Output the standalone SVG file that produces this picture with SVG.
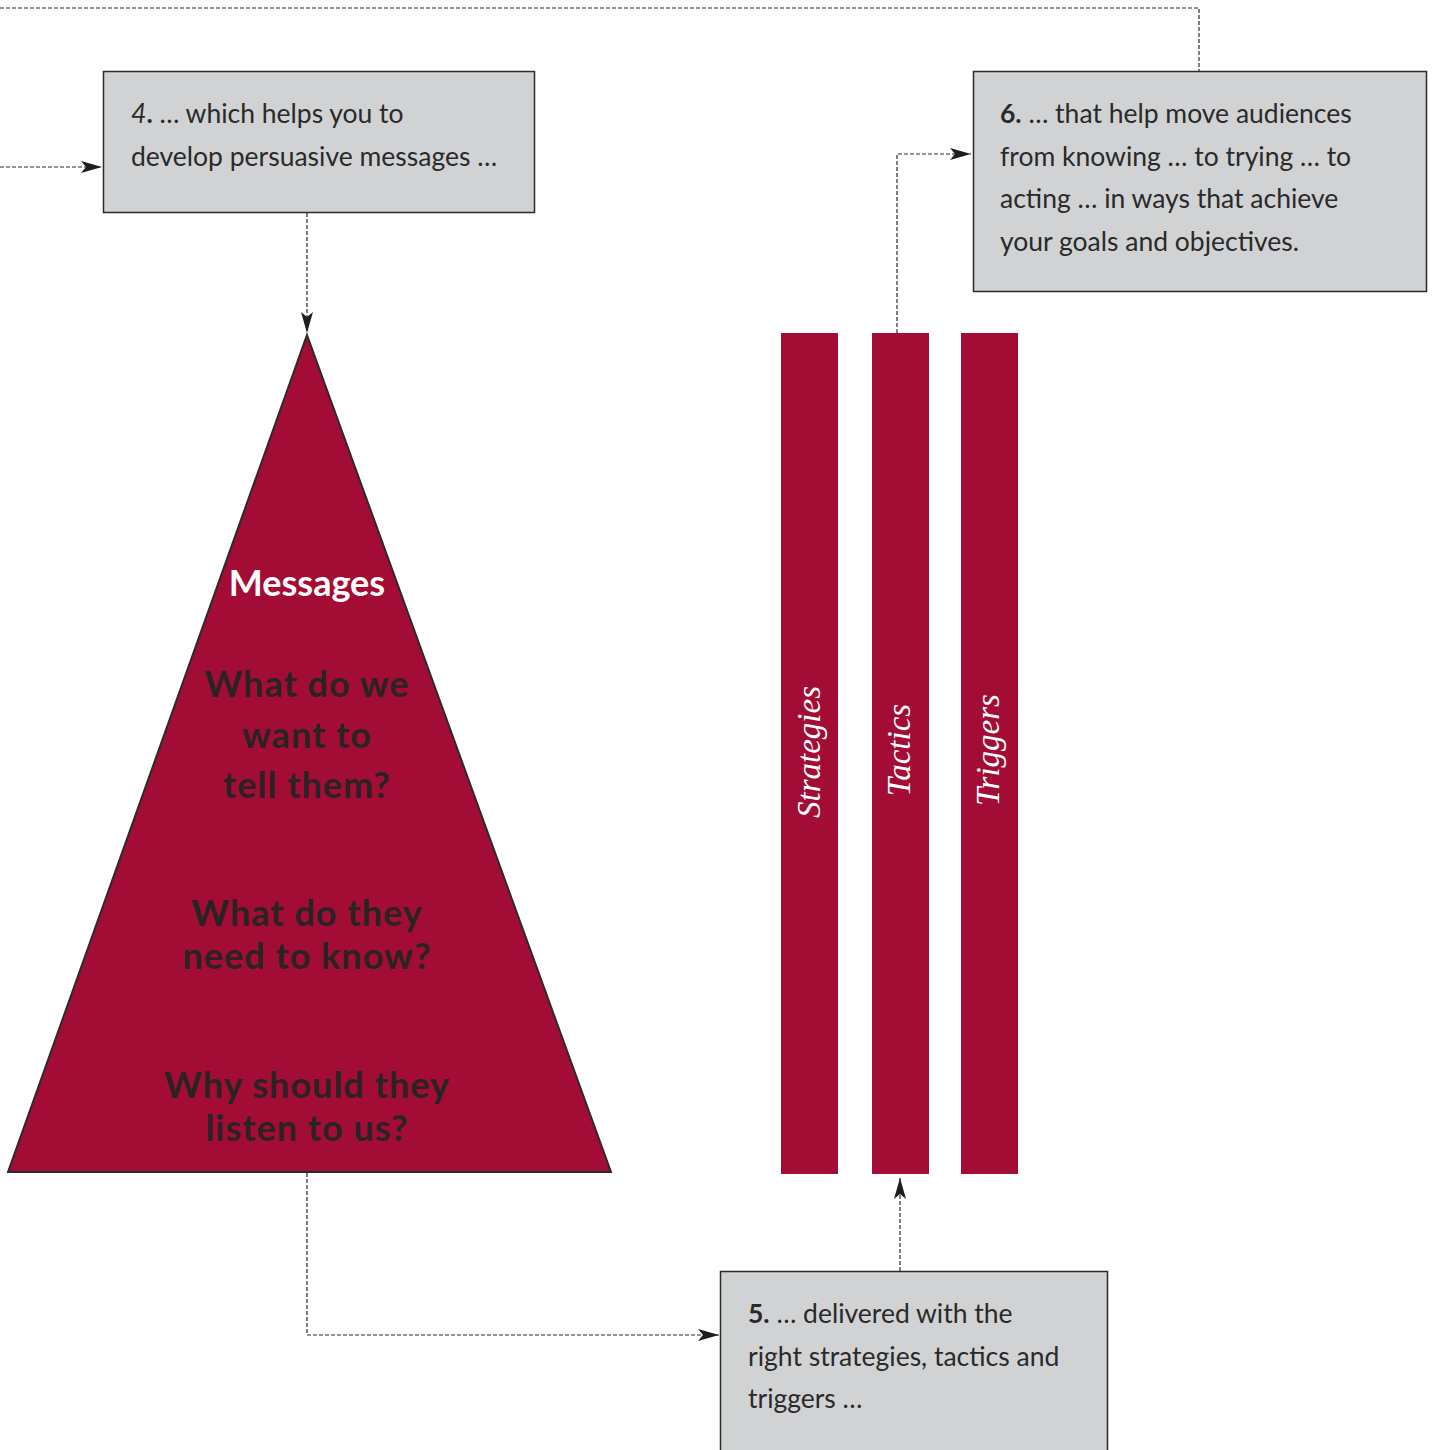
<svg xmlns="http://www.w3.org/2000/svg" width="1432" height="1450" viewBox="0 0 1432 1450">
  <style>
    .box { fill: #d1d2d4; stroke: #2b2b2b; stroke-width: 1.5; }
    .txt { font-family: Lato, "Noto Sans", "Liberation Sans", sans-serif; font-size: 26.5px; fill: #2a2a2a; }
    .num { font-weight: bold; }
    .bar { fill: #a30d35; }
    .barlabel { font-family: "Liberation Serif", "DejaVu Serif", serif; font-style: italic; font-size: 33px; fill: #ffffff; text-anchor: middle; }
    .tri { fill: #a30d35; stroke: #2b2b2b; stroke-width: 2; }
    .head { font-family: Lato, "Noto Sans", sans-serif; font-weight: bold; font-size: 36px; fill: #ffffff; text-anchor: middle; }
    .q { font-family: Lato, "Noto Sans", sans-serif; font-weight: bold; font-size: 36px; fill: #2a2323; text-anchor: middle; letter-spacing: 1px; }
    .link { fill: none; stroke: #2b2b2b; stroke-width: 1.2; stroke-dasharray: 4 2; }
  </style>
  <defs>
    <marker id="arrow" markerWidth="22" markerHeight="12" refX="21" refY="6" orient="auto" markerUnits="userSpaceOnUse">
      <path d="M0,0 L21,6 L0,12 L5,6 Z" fill="#1e1e1e"/>
    </marker>
  </defs>

  <!-- connectors -->
  <g id="connectors">
    <polyline class="link" points="0,8 1199,8 1199,71"/>
    <line class="link" x1="0" y1="167" x2="102" y2="167" marker-end="url(#arrow)"/>
    <line class="link" x1="307" y1="213" x2="307" y2="333" marker-end="url(#arrow)"/>
    <polyline class="link" points="897,333 897,154 971,154" marker-end="url(#arrow)"/>
    <polyline class="link" points="307,1173 307,1335 719,1335" marker-end="url(#arrow)"/>
    <line class="link" x1="900" y1="1271" x2="900" y2="1178" marker-end="url(#arrow)"/>
  </g>

  <!-- step 4 -->
  <g id="step4">
    <rect class="box" x="103.5" y="71.5" width="431" height="141"/>
    <text class="txt" x="131" y="123"><tspan font-style="italic">4</tspan><tspan class="num">.</tspan> … which helps you to</text>
    <text class="txt" x="131" y="166">develop persuasive messages …</text>
  </g>

  <!-- step 6 -->
  <g id="step6">
    <rect class="box" x="973.5" y="71.5" width="453" height="220"/>
    <text class="txt" x="1000" y="123"><tspan class="num">6.</tspan> … that help move audiences</text>
    <text class="txt" x="1000" y="166">from knowing … to trying … to</text>
    <text class="txt" x="1000" y="208">acting … in ways that achieve</text>
    <text class="txt" x="1000" y="251">your goals and objectives.</text>
  </g>

  <!-- messages pyramid -->
  <g id="messages">
    <polygon class="tri" points="307,335 611,1172 8,1172"/>
    <text class="head" x="307" y="596">Messages</text>
    <text class="q" x="307" y="697">What do we</text>
    <text class="q" x="307" y="748">want to</text>
    <text class="q" x="307" y="798">tell them?</text>
    <text class="q" x="307" y="926">What do they</text>
    <text class="q" x="307" y="969">need to know?</text>
    <text class="q" x="307" y="1098">Why should they</text>
    <text class="q" x="307" y="1141">listen to us?</text>
  </g>

  <!-- delivery pillars -->
  <g id="strategies">
    <rect class="bar" x="781" y="333" width="57" height="841"/>
    <text class="barlabel" transform="translate(820,752) rotate(-90)">Strategies</text>
  </g>
  <g id="tactics">
    <rect class="bar" x="872" y="333" width="57" height="841"/>
    <text class="barlabel" transform="translate(910,750) rotate(-90)">Tactics</text>
  </g>
  <g id="triggers">
    <rect class="bar" x="961" y="333" width="57" height="841"/>
    <text class="barlabel" transform="translate(999,750) rotate(-90)">Triggers</text>
  </g>

  <!-- step 5 -->
  <g id="step5">
    <rect class="box" x="720.5" y="1271.5" width="387" height="190"/>
    <text class="txt" x="748" y="1323"><tspan class="num">5.</tspan> … delivered with the</text>
    <text class="txt" x="748" y="1366">right strategies, tactics and</text>
    <text class="txt" x="748" y="1408">triggers …</text>
  </g>
</svg>
